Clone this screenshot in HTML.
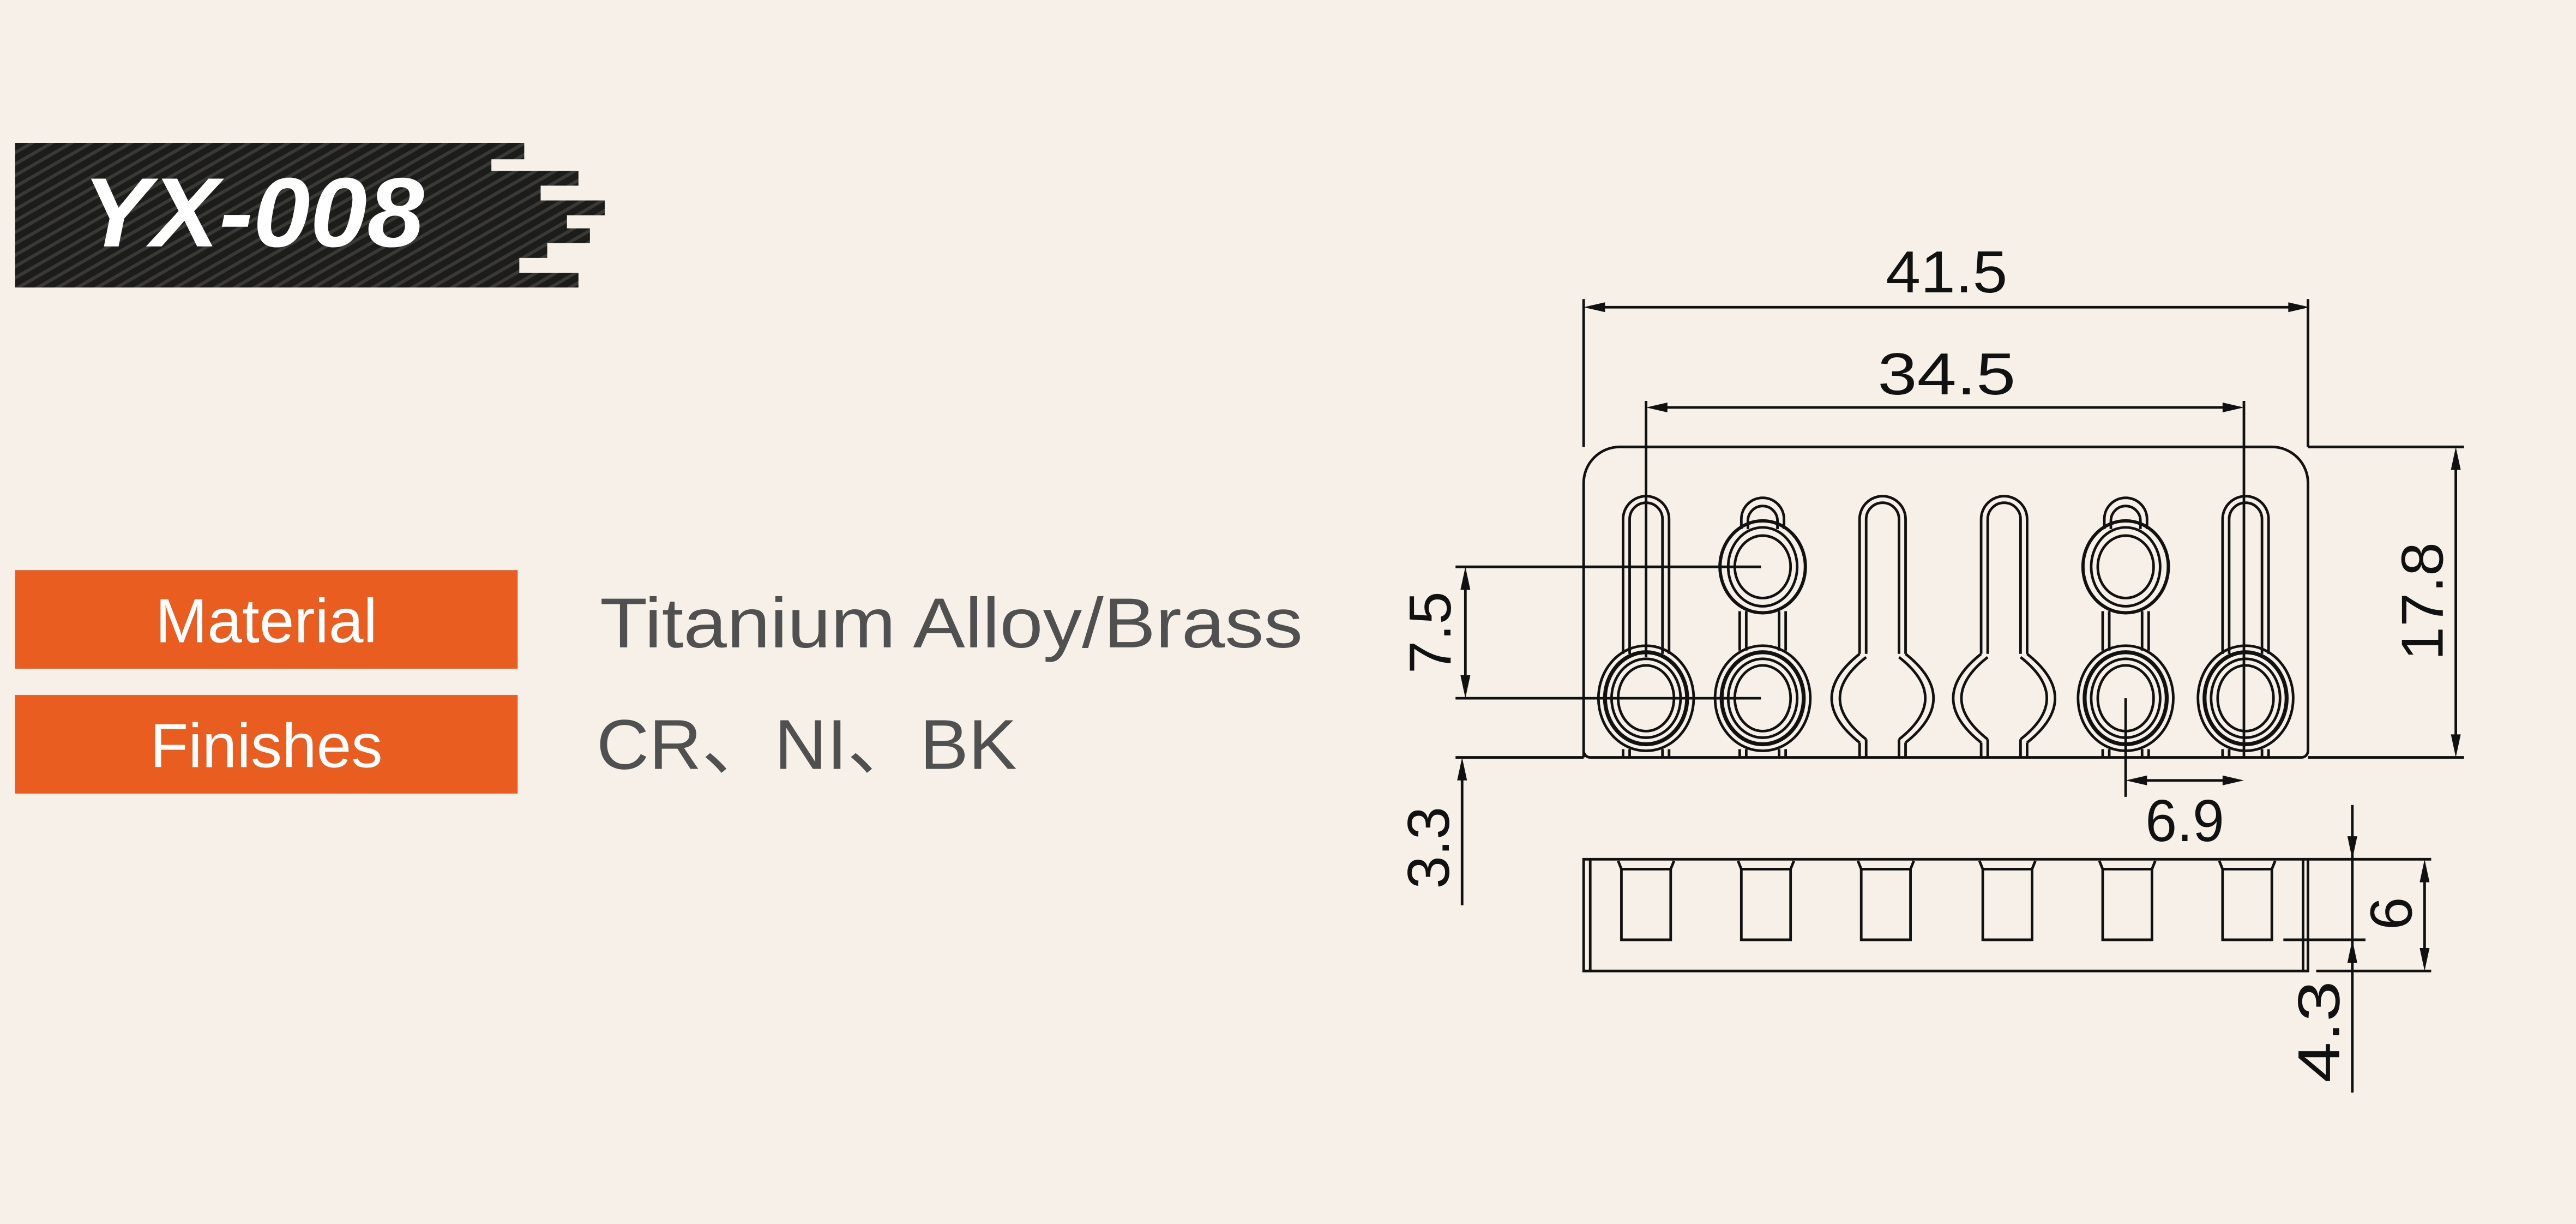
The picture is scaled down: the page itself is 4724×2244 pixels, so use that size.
<!DOCTYPE html>
<html><head><meta charset="utf-8"><style>
html,body{margin:0;padding:0;background:#f6f0e9;}
svg{display:block}
.d{font-family:"Liberation Sans",sans-serif;font-size:36px;fill:#111;}
</style></head><body>
<svg width="4724" height="2244" viewBox="0 0 1568 745" xmlns="http://www.w3.org/2000/svg">
<defs>
<pattern id="cf" width="6" height="6" patternUnits="userSpaceOnUse" patternTransform="rotate(60)">
<rect width="6" height="6" fill="#1c1c1a"/><rect width="2" height="6" fill="#3a3935"/></pattern>
<g id="ring" fill="none" stroke="#111" stroke-width="1.6">
<ellipse cx="0" cy="425" rx="29" ry="32"/><ellipse cx="0" cy="425" rx="25" ry="28" stroke-width="2.4"/>
<ellipse cx="0" cy="425" rx="21" ry="24"/><ellipse cx="0" cy="425" rx="17" ry="20"/>
<path d="M-14,456V461M-10,456V461M10,456V461M14,456V461"/></g>
<g id="sa" fill="none" stroke="#111" stroke-width="1.6">
<path d="M-14,398V316A14,14 0 0 1 14,316V398M-10,398V316A10,10 0 0 1 10,316V398"/><use href="#ring"/></g>
<g id="sb" fill="none" stroke="#111" stroke-width="1.6">
<path d="M-13,322V316A13,13 0 0 1 13,316V322M-9,322V317A9,9 0 0 1 9,317V322"/>
<ellipse cx="0" cy="345" rx="26" ry="28" stroke-width="2"/><ellipse cx="0" cy="345" rx="21" ry="24"/><ellipse cx="0" cy="345" rx="17" ry="19"/>
<path d="M-14,372V396M-10,372V396M10,372V396M14,372V396"/><use href="#ring"/></g>
<g id="sc" fill="none" stroke="#111" stroke-width="1.6">
<path d="M-14,398V316A14,14 0 0 1 14,316V398M-10,398V316A10,10 0 0 1 10,316V398"/>
<path d="M-14,398Q-48,425 -14,452M-10,400Q-42,425 -10,450M14,398Q48,425 14,452M10,400Q42,425 10,450"/>
<path d="M-14,452V461M-10,450V461M10,450V461M14,452V461"/></g>
<g id="st" fill="none" stroke="#111" stroke-width="1.6">
<path d="M-17,524L-15,529H15L17,524M-15,529V572H15V529"/></g>
</defs>
<rect width="1568" height="745" fill="#f6f0e9"/>
<!-- header -->
<path d="M9,87H319V97H299V104H352V113H329V122H368V131H345V139H359V148H333V157H316V166H352V175H9Z" fill="url(#cf)"/>
<text x="50" y="150" font-family="Liberation Sans,sans-serif" font-weight="bold" font-style="italic" font-size="60" fill="#fff" textLength="208" lengthAdjust="spacingAndGlyphs">YX-008</text>
<rect x="9" y="347" width="306" height="60" fill="#e95d21"/>
<rect x="9" y="423" width="306" height="60" fill="#e95d21"/>
<text x="162" y="391" text-anchor="middle" font-family="Liberation Sans,sans-serif" font-size="38" fill="#fff">Material</text>
<text x="162" y="467" text-anchor="middle" font-family="Liberation Sans,sans-serif" font-size="38" fill="#fff">Finishes</text>
<text x="365" y="394" font-family="Liberation Sans,sans-serif" font-size="43" fill="#505050" textLength="428" lengthAdjust="spacingAndGlyphs">Titanium Alloy/Brass</text>
<text x="363" y="468" font-family="Liberation Sans,'Noto Sans CJK SC',sans-serif" font-size="43" fill="#505050" textLength="256" lengthAdjust="spacingAndGlyphs">CR、NI、BK</text>
<!-- drawing -->
<g fill="none" stroke="#111" stroke-width="1.6">
<path d="M964,461V294A22,22 0 0 1 986,272H1383A22,22 0 0 1 1405,294V457A4,4 0 0 1 1401,461H968A4,4 0 0 1 964,457"/>
<path d="M886,461H964M1405,461H1500M1405,272H1500"/>
<path d="M964,182V272M1405,182V272M1002,244V400M1366,244V461"/>
<path d="M975,187H1395M1013,248H1355M1495,284V449M892,357V413M890,473V551"/>
<path d="M886,345H1072M886,425H1072M1294,425V485M1305,475H1355"/>
<rect x="964" y="523" width="441" height="68"/><path d="M968,523V591M1402,523V591"/>
<path d="M1405,523H1480M1390,572H1440M1410,591H1480M1432,490V665M1476,535V579"/>
</g>
<g fill="#111">
<path d="M964,187L977,184V190ZM1406,187L1393,184V190Z"/>
<path d="M1002,248L1015,245V251ZM1366,248L1353,245V251Z"/>
<path d="M1495,272L1492,286H1498ZM1495,461L1492,447H1498Z"/>
<path d="M892,345L889,359H895ZM892,425L889,411H895Z"/>
<path d="M890,461L887,475H893Z"/>
<path d="M1294,475L1307,472V478ZM1366,475L1353,472V478Z"/>
<path d="M1432,523L1429,509H1435ZM1432,572L1429,586H1435Z"/>
<path d="M1476,523L1473,537H1479ZM1476,591L1473,577H1479Z"/>
</g>
<use href="#sa" x="1002"/><use href="#sb" x="1073"/><use href="#sc" x="1146"/>
<use href="#sc" x="1220"/><use href="#sb" x="1294"/><use href="#sa" x="1367"/>
<use href="#st" x="1002"/><use href="#st" x="1075"/><use href="#st" x="1148"/>
<use href="#st" x="1222"/><use href="#st" x="1295"/><use href="#st" x="1368"/>
<text class="d" x="1185" y="178" text-anchor="middle" textLength="74" lengthAdjust="spacingAndGlyphs">41.5</text>
<text class="d" x="1185" y="240" text-anchor="middle" textLength="84" lengthAdjust="spacingAndGlyphs">34.5</text>
<text class="d" x="1330" y="512" text-anchor="middle" textLength="48" lengthAdjust="spacingAndGlyphs">6.9</text>
<text class="d" transform="translate(883,385) rotate(-90)" text-anchor="middle" textLength="50" lengthAdjust="spacingAndGlyphs">7.5</text>
<text class="d" transform="translate(882,516) rotate(-90)" text-anchor="middle" textLength="50" lengthAdjust="spacingAndGlyphs">3.3</text>
<text class="d" transform="translate(1487,366) rotate(-90)" text-anchor="middle" textLength="72" lengthAdjust="spacingAndGlyphs">17.8</text>
<text class="d" transform="translate(1468,556) rotate(-90)" text-anchor="middle">6</text>
<text class="d" transform="translate(1424,628) rotate(-90)" text-anchor="middle" textLength="62" lengthAdjust="spacingAndGlyphs">4.3</text>
</svg>
</body></html>
